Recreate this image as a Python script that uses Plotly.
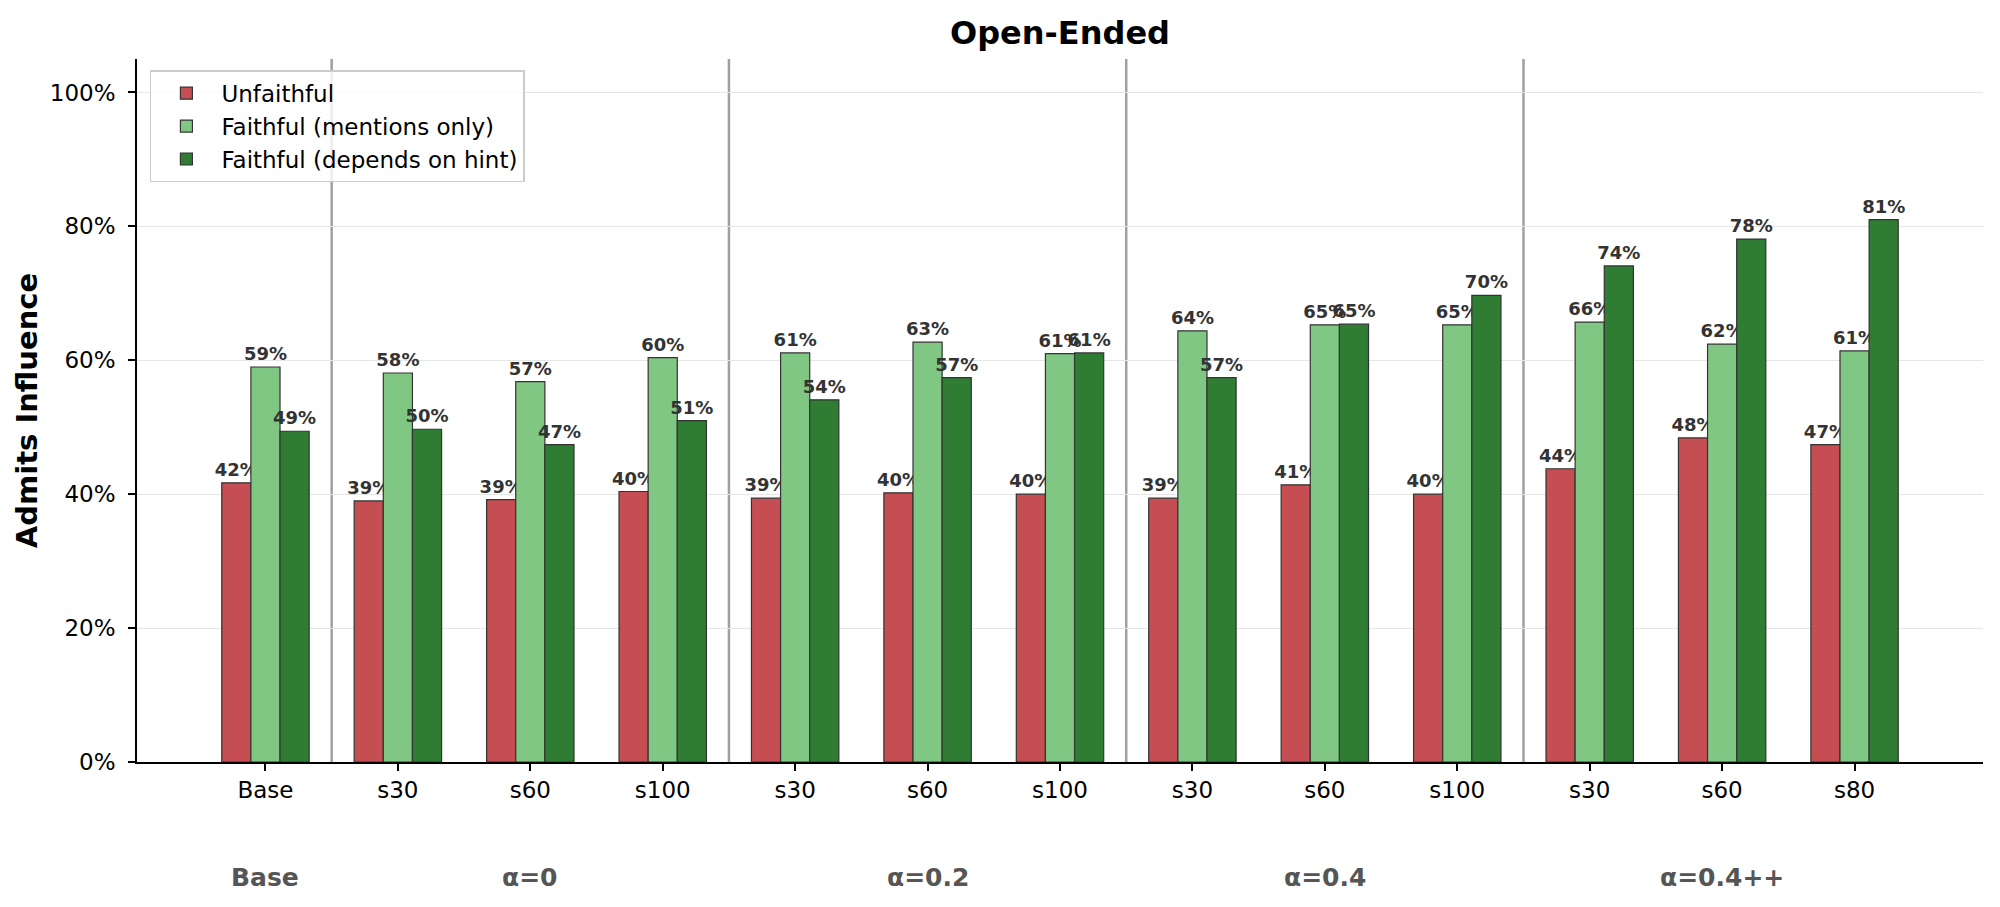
import plotly.graph_objects as go

# steering variants, one bar group each
tick_labels = ["Base", "s30", "s60", "s100", "s30", "s60", "s100",
               "s30", "s60", "s100", "s30", "s60", "s80"]
group_names = ["Base", "α=0", "α=0.2", "α=0.4", "α=0.4++"]
group_sizes = [1, 3, 3, 3, 3]

# share of responses admitting influence (%)
unfaithful = [41.7, 39.0, 39.2, 40.4, 39.4, 40.2, 40.0, 39.4, 41.4, 40.0, 43.8, 48.4, 47.4]
mentions_only = [59.0, 58.1, 56.8, 60.4, 61.1, 62.7, 61.0, 64.4, 65.3, 65.3, 65.7, 62.4, 61.4]
depends_on_hint = [49.4, 49.7, 47.4, 51.0, 54.1, 57.4, 61.1, 57.4, 65.4, 69.7, 74.1, 78.1, 81.0]

y_ticks = [0, 20, 40, 60, 80, 100]
y_tick_labels = ["0%", "20%", "40%", "60%", "80%", "100%"]

series = [
    ("Unfaithful", unfaithful, "#C44E52"),
    ("Faithful (mentions only)", mentions_only, "#81C784"),
    ("Faithful (depends on hint)", depends_on_hint, "#2E7D32"),
]

FONT = "DejaVu Sans"
x = list(range(len(tick_labels)))

fig = go.Figure()
for name, vals, color in series:
    fig.add_trace(go.Bar(
        x=x,
        y=vals,
        name=name,
        marker=dict(color=color, line=dict(color="#333333", width=1.2)),
        texttemplate="%{y:.0f}%",
        textposition="outside",
        constraintext="none",
        cliponaxis=False,
        textfont=dict(family=FONT, size=18, color="#333333", weight="bold"),
    ))

# group boundaries and centres
bounds = []
centres = []
start = 0
for size in group_sizes:
    centres.append(start + (size - 1) / 2)
    start += size
    bounds.append(start - 0.5)

for b in bounds[:-1]:
    fig.add_shape(type="line", xref="x", yref="paper", x0=b, x1=b, y0=0, y1=1,
                  line=dict(color="#a0a0a0", width=2.5), layer="below")

for name, c in zip(group_names, centres):
    fig.add_annotation(x=c, xref="x", y=-0.164, yref="paper", text=name,
                       showarrow=False, yanchor="middle",
                       font=dict(family=FONT, size=25, color="#555555", weight="bold"))

# page body has an 8px margin, so the figure is a bit smaller than the window
fig.update_layout(
    width=1984,
    height=891,
    margin=dict(l=129, r=9, t=51, b=137),
    paper_bgcolor="white",
    plot_bgcolor="white",
    barmode="group",
    bargap=0.34,
    bargroupgap=0,
    font=dict(family=FONT, size=23, color="black"),
    title=dict(text="<b>Open-Ended</b>", x=0.5, xref="paper", xanchor="center",
               y=1 - 25 / 891, yref="container", yanchor="middle",
               font=dict(family=FONT, size=32, color="black")),
    legend=dict(x=0.007, y=0.984, xanchor="left", yanchor="top",
                bgcolor="rgba(255,255,255,0.8)", bordercolor="#cccccc", borderwidth=1.5,
                font=dict(family=FONT, size=23), tracegroupgap=0, itemwidth=60),
    showlegend=True,
)

fig.update_xaxes(
    range=[-0.97, 12.97],
    tickvals=x,
    ticktext=tick_labels,
    ticks="outside",
    ticklen=7,
    tickwidth=1.5,
    tickcolor="black",
    showline=True,
    linecolor="black",
    linewidth=1.6,
    showgrid=False,
    zeroline=False,
    tickfont=dict(family=FONT, size=23),
)

fig.update_yaxes(
    range=[0, 105],
    tickvals=y_ticks,
    ticktext=y_tick_labels,
    ticks="outside",
    ticklen=7,
    tickwidth=1.5,
    tickcolor="black",
    ticklabelstandoff=8,
    showline=True,
    linecolor="black",
    linewidth=1.6,
    showgrid=True,
    gridcolor="#e6e6e6",
    gridwidth=1.3,
    zeroline=False,
    tickfont=dict(family=FONT, size=23),
    title=dict(text="<b>Admits Influence</b>", standoff=4,
               font=dict(family=FONT, size=29, color="black")),
)

fig.write_html("out.html")
